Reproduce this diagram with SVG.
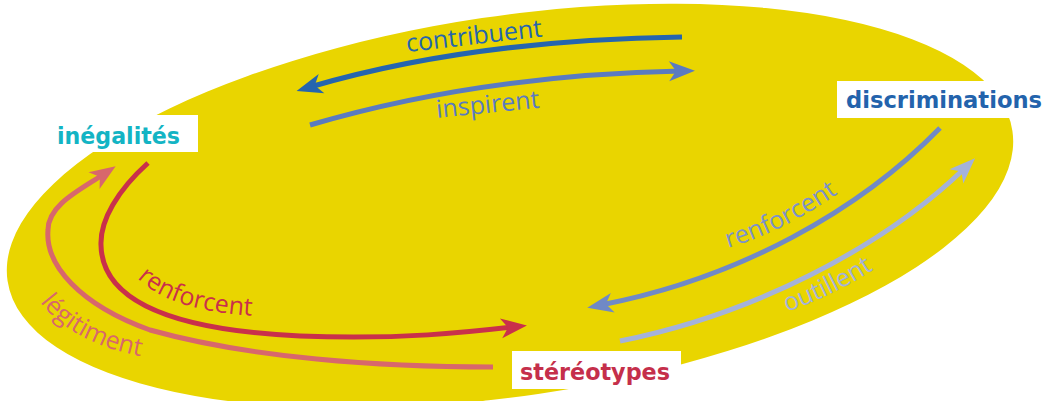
<svg xmlns="http://www.w3.org/2000/svg" width="1046" height="401" viewBox="0 0 1046 401">
<style>
.lbl{font-family:'Open Sans','Noto Sans',sans-serif;font-size:25px}
.node{font-family:'DejaVu Sans Condensed','DejaVu Sans',sans-serif;font-weight:bold;font-size:23px;font-stretch:condensed}
.arr{fill:none;stroke-width:5}
.box{fill:#fff}
</style>
<defs>
<marker id="m-db" markerUnits="userSpaceOnUse" viewBox="-28 -12 30 24" markerWidth="30" markerHeight="24" refX="-14" refY="0" orient="auto"><path d="M0,0 L-26,-10 L-19,0 L-26,10 Z" fill="#2565AE"/></marker>
<marker id="m-mb" markerUnits="userSpaceOnUse" viewBox="-28 -12 30 24" markerWidth="30" markerHeight="24" refX="-14" refY="0" orient="auto"><path d="M0,0 L-26,-10 L-19,0 L-26,10 Z" fill="#5A7BC0"/></marker>
<marker id="m-red" markerUnits="userSpaceOnUse" viewBox="-28 -12 30 24" markerWidth="30" markerHeight="24" refX="-14" refY="0" orient="auto"><path d="M0,0 L-26,-10 L-19,0 L-26,10 Z" fill="#C9304B"/></marker>
<marker id="m-sal" markerUnits="userSpaceOnUse" viewBox="-28 -12 30 24" markerWidth="30" markerHeight="24" refX="-14" refY="0" orient="auto"><path d="M0,0 L-26,-10 L-19,0 L-26,10 Z" fill="#D8676C"/></marker>
<marker id="m-rb" markerUnits="userSpaceOnUse" viewBox="-28 -12 30 24" markerWidth="30" markerHeight="24" refX="-14" refY="0" orient="auto"><path d="M0,0 L-26,-10 L-19,0 L-26,10 Z" fill="#7089C6"/></marker>
<marker id="m-lb" markerUnits="userSpaceOnUse" viewBox="-28 -12 30 24" markerWidth="30" markerHeight="24" refX="-14" refY="0" orient="auto"><path d="M0,0 L-26,-10 L-19,0 L-26,10 Z" fill="#A4B2DA"/></marker>
<path id="tp-red" d="M137,278 C160,300 195,312 255,316"/>
<path id="tp-leg" d="M40,302 C58,326 95,350 152,358"/>
<path id="tp-rb" d="M728,248 C765,237 800,220 842,191"/>
<path id="tp-out" d="M787,312 C820,300 852,285 886,261"/>
</defs>
<ellipse id="background" cx="510" cy="206" rx="508" ry="190" transform="rotate(-8.5 510 206)" fill="#E9D500"/>
<g id="connectors">
<path class="arr" d="M682,37 Q470,40 310,87" stroke="#2565AE" marker-end="url(#m-db)"/>
<path class="arr" d="M310,125 Q480,75 681,71" stroke="#5A7BC0" marker-end="url(#m-mb)"/>
<path class="arr" d="M148,163 C118,190 100,220 101,245 C102,300 170,330 300,336 C400,340 470,332 513,327" stroke="#C9304B" marker-end="url(#m-red)"/>
<path class="arr" d="M493,367 C380,367 250,358 150,330 C80,305 45,265 48,230 C48,205 80,190 104,174" stroke="#D8676C" marker-end="url(#m-sal)"/>
<path class="arr" d="M940,128 C860,210 740,278 601,305" stroke="#7089C6" marker-end="url(#m-rb)"/>
<path class="arr" d="M620,341 C750,315 880,250 965,168" stroke="#A4B2DA" marker-end="url(#m-lb)"/>
<text class="lbl" fill="#2565AE" transform="translate(407,52) rotate(-6.5)">contribuent</text>
<text class="lbl" fill="#5A7BC0" transform="translate(437,118) rotate(-5.7)">inspirent</text>
<text class="lbl" fill="#C9304B"><textPath href="#tp-red">renforcent</textPath></text>
<text class="lbl" fill="#D8676C"><textPath href="#tp-leg">légitiment</textPath></text>
<text class="lbl" fill="#7C92CA"><textPath href="#tp-rb">renforcent</textPath></text>
<text class="lbl" fill="#A4B2DA"><textPath href="#tp-out">outillent</textPath></text>
</g>
<g id="node-inegalites">
<rect class="box" x="45" y="115" width="153" height="37"/>
<text class="node" x="57" y="144" fill="#13B4C4" textLength="123" lengthAdjust="spacingAndGlyphs">inégalités</text>
</g>
<g id="node-discriminations">
<rect class="box" x="837" y="81" width="209" height="37"/>
<text class="node" x="846" y="108" fill="#2363AC" textLength="196" lengthAdjust="spacingAndGlyphs">discriminations</text>
</g>
<g id="node-stereotypes">
<rect class="box" x="512" y="351" width="169" height="38"/>
<text class="node" x="520" y="380" fill="#C52F4B" textLength="150" lengthAdjust="spacingAndGlyphs">stéréotypes</text>
</g>
</svg>
